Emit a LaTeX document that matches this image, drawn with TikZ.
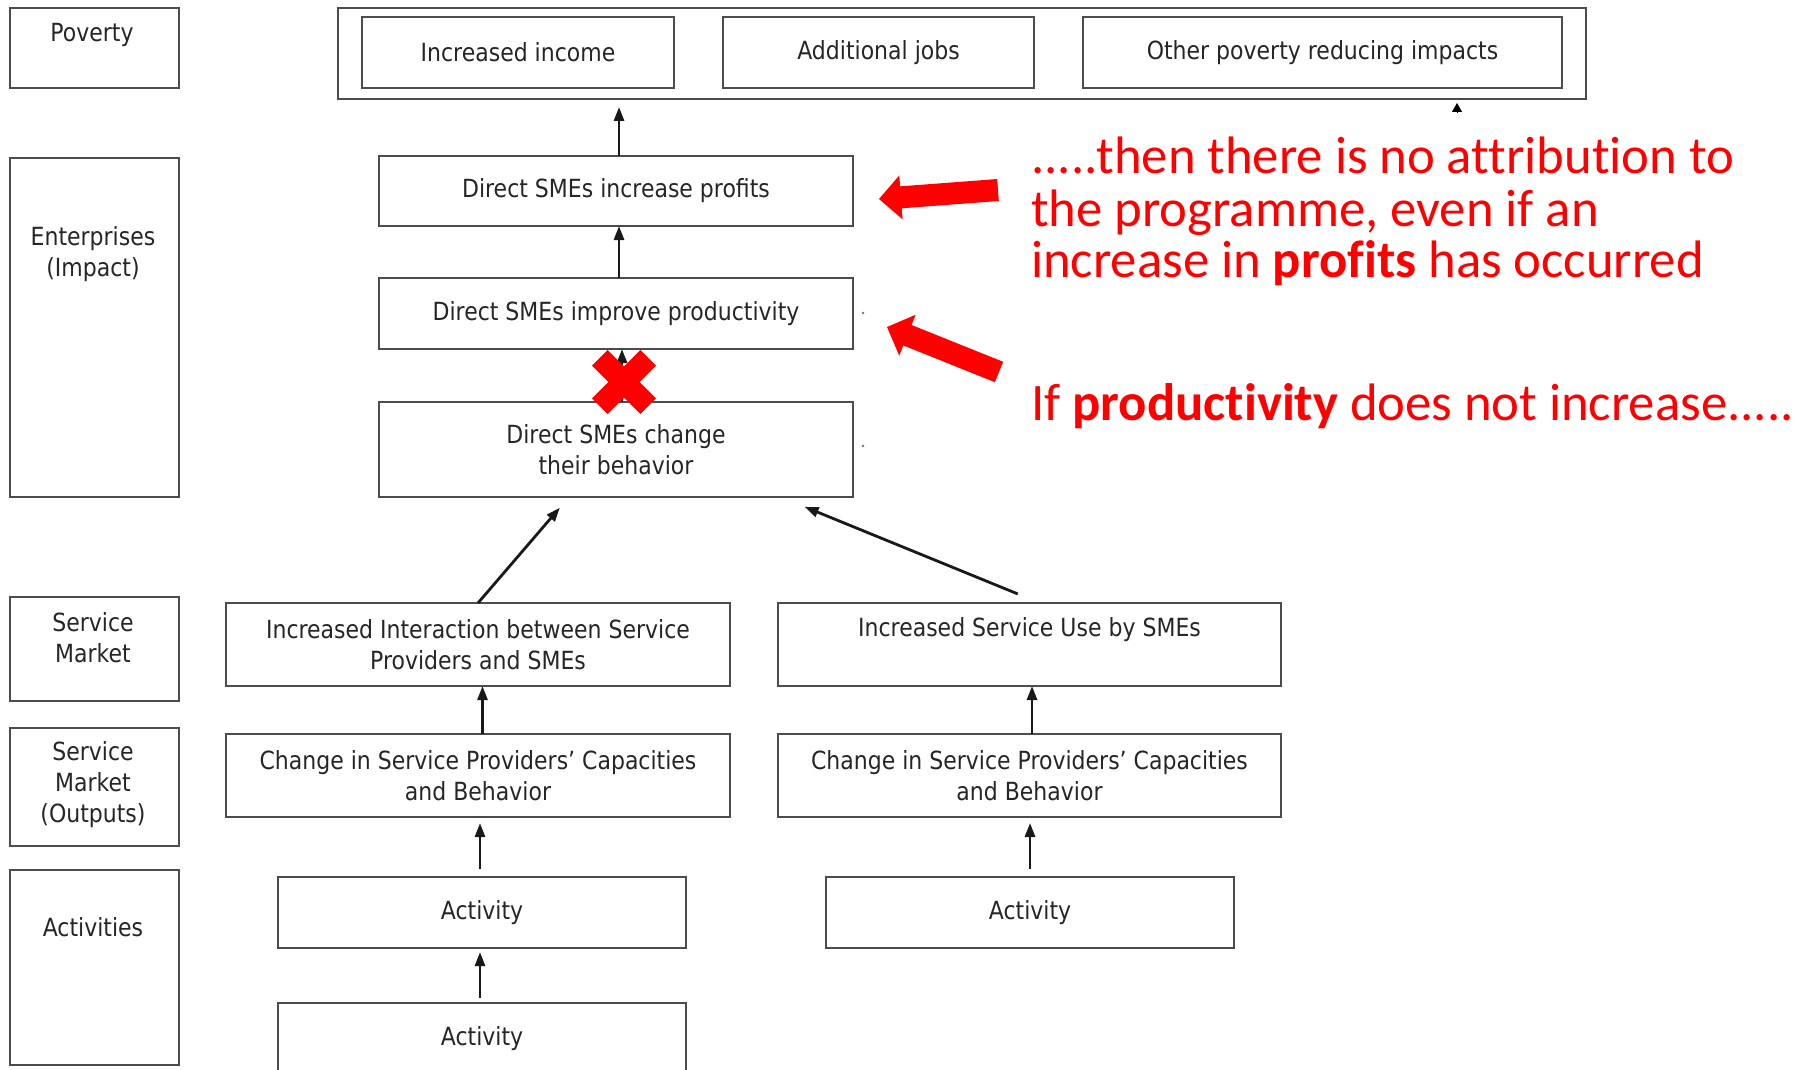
\documentclass[tikz,border=0pt]{standalone}
\usepackage{fontspec}
\setmainfont{DejaVu Sans}[FakeStretch=0.88]
\newfontfamily\notefont{Carlito}[Ligatures={NoCommon,NoContextual}, RawFeature={-liga;-clig;-dlig;-calt}]
\usetikzlibrary{arrows.meta,calc}

\tikzset{
  boxfont/.style={font=\fontsize{25}{31}\selectfont},
  box/.style={boxfont, draw=black!70, line width=2.4pt, inner sep=0pt, outer sep=0pt,
              align=center, text=black!85},
  lblbox/.style={draw=black!70, line width=2.4pt, inner sep=0pt, outer sep=0pt},
  lbl/.style={boxfont, align=center, text=black!85, inner sep=0pt},
  flow/.style={line width=2.8pt, draw=black!90, -{Triangle[length=14pt,width=10pt]}},
  note/.style={text=red, inner sep=0pt, anchor=base west,
               font=\notefont\fontsize{52.7}{52}\selectfont},
  crossbar/.style={draw=red, line width=22pt, line cap=butt},
}

% block arrow drawn from tail #1 to tip #2
\newcommand\blockarrow[3]{%
  \coordinate (#3) at ($(#2)!22pt!(#1)$);
  \fill[red] ($(#1)!11pt!90:(#2)$) -- ($(#3)!11pt!90:(#2)$) -- ($(#3)!22pt!90:(#2)$)
     -- (#2) -- ($(#3)!22pt!-90:(#2)$) -- ($(#3)!11pt!-90:(#2)$)
     -- ($(#1)!11pt!-90:(#2)$) -- cycle;}

\begin{document}
\begin{tikzpicture}[x=1pt, y=-1pt]
  \fill[white] (0,0) rectangle (1810,1070);
  \useasboundingbox (0,0) rectangle (1810,1070);
  \clip (0,0) rectangle (1810,1070);

  % level labels on the left
  \node[lblbox, minimum width=169pt, minimum height=80pt]  (povL) at (94.5,48) {};
  \node[lblbox, minimum width=169pt, minimum height=339pt] (entL) at (94.5,327.5) {};
  \node[lblbox, minimum width=169pt, minimum height=104pt] (smL)  at (94.5,649) {};
  \node[lblbox, minimum width=169pt, minimum height=118pt] (smoL) at (94.5,787) {};
  \node[lblbox, minimum width=169pt, minimum height=195pt] (actL) at (94.5,967.5) {};

  \node[lbl] (povT) at (92,35) {Poverty};
  \node[lbl] (entT) at (93,254.5) {Enterprises\\(Impact)};
  \node[lbl] (smT)  at (93,637.5) {Service\\Market};
  \node[lbl] (smoT) at (93,785) {Service\\Market\\(Outputs)};
  \node[lbl] (actT) at (93,927) {Activities};

  % poverty level
  \node[lblbox, minimum width=1248pt, minimum height=91pt] (pov) at (962,53.5) {};
  \node[box, minimum width=312pt, minimum height=71pt] (inc)   at (518,52.5) {Increased income};
  \node[box, minimum width=311pt, minimum height=71pt] (jobs)  at (878.5,52.5) {Additional jobs};
  \node[box, minimum width=479pt, minimum height=71pt] (other) at (1322.5,52.5) {Other poverty reducing impacts};

  % enterprise level
  \node[box, minimum width=474pt, minimum height=70pt] (profits) at (616,191) {Direct SMEs increase profits};
  \node[box, minimum width=474pt, minimum height=71pt] (prod)    at (616,313.5) {Direct SMEs improve productivity};
  \node[box, minimum width=474pt, minimum height=95pt] (behav)   at (616,449.5) {Direct SMEs change\\their behavior};

  % service market
  \node[box, minimum width=504pt, minimum height=83pt] (inter) at (478,644.5)
       {Increased Interaction between Service\\Providers and SMEs};
  \node[box, minimum width=503pt, minimum height=83pt, text height=18pt, text depth=35pt] (use) at (1029.5,644.5)
       {Increased Service Use by SMEs};
  \node[box, minimum width=504pt, minimum height=83pt] (capL) at (478,775.5)
       {Change in Service Providers’ Capacities\\and Behavior};
  \node[box, minimum width=503pt, minimum height=83pt] (capR) at (1029.5,775.5)
       {Change in Service Providers’ Capacities\\and Behavior};

  % activities
  \node[box, minimum width=408pt, minimum height=71pt] (act1) at (482,912.5) {Activity};
  \node[box, minimum width=408pt, minimum height=71pt] (act2) at (1030,912.5) {Activity};
  \node[box, minimum width=408pt, minimum height=71pt] (act3) at (482,1038.5) {Activity};

  % causal links
  \draw[flow, shorten >=8pt] ([xshift=3pt]profits.north) -- ([xshift=3pt]profits.north |- pov.south);
  \draw[flow] ([xshift=3pt]prod.north) -- ([xshift=3pt]profits.south);
  \draw[flow] ([xshift=6pt]behav.north) -- ([xshift=6pt]prod.south);
  \draw[flow, shorten >=14pt] (inter.north) -- ([xshift=-47pt]behav.south);
  \draw[flow, shorten <=24pt, shorten >=26pt] ([xshift=10.5pt]use.north) -- ([xshift=164.5pt]behav.south);
  \draw[flow] ([xshift=4.5pt]capL.north) -- ([xshift=4.5pt]inter.south);
  \draw[flow] ([xshift=2.5pt]capR.north) -- ([xshift=2.5pt]use.south);
  \draw[flow, shorten <=8pt, shorten >=6pt] ([xshift=-2pt]act1.north) -- ([xshift=2pt]capL.south);
  \draw[flow, shorten <=8pt, shorten >=6pt] (act2.north) -- ([xshift=0.5pt]capR.south);
  \draw[flow, shorten <=5pt, shorten >=4pt] ([xshift=-2pt]act3.north) -- ([xshift=-2pt]act1.south);

  % stray marks
  \coordinate (stubA) at (1457,112);
  \coordinate (stubB) at (1457,103);
  \draw[line width=1pt, -{Triangle[length=9pt,width=10pt]}] (stubA) -- (stubB);
  \coordinate (dotA) at (863,313);
  \coordinate (dotB) at (863,446);
  \fill[black!55] (dotA) circle (1.4pt);
  \fill[black!55] (dotB) circle (1.4pt);

  % broken link cross
  \coordinate (xc) at (624,382);
  \draw[crossbar] ($(xc)+(-24.2,-24.2)$) -- ($(xc)+(24.2,24.2)$);
  \draw[crossbar] ($(xc)+(-24.2,24.2)$) -- ($(xc)+(24.2,-24.2)$);

  % red pointers
  \coordinate (pA) at (998,190);
  \coordinate (pAtip) at (879,199);
  \blockarrow{pA}{pAtip}{pAbase}
  \coordinate (pB) at (999,372);
  \coordinate (pBtip) at (887,327);
  \blockarrow{pB}{pBtip}{pBbase}

  % notes
  \node[note] (n1) at (1031,173) {.....then there is no attribution to};
  \node[note] (n2) at (1031,226) {the programme, even if an};
  \node[note] (n3) at (1031,277) {increase in \textbf{profits} has occurred};
  \node[note] (n4) at (1031,420) {If \textbf{productivity} does not increase.....};
\end{tikzpicture}
\end{document}
